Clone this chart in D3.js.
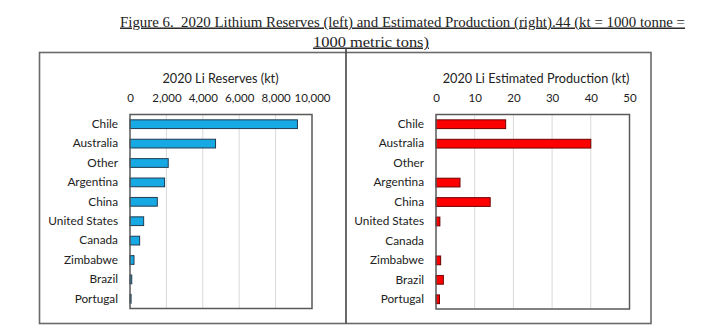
<!DOCTYPE html>
<html><head><meta charset="utf-8">
<script src="https://cdn.jsdelivr.net/npm/d3@7"></script>
<style>body{margin:0;background:#fff;}svg{display:block;} text{white-space:pre;}</style>
</head><body>
<script>
const categories = ["Chile","Australia","Other","Argentina","China","United States","Canada","Zimbabwe","Brazil","Portugal"];
const reserves = [9200,4700,2100,1900,1500,750,530,220,95,60];
const production = [18,40,0,6.2,14,1.0,0,1.2,1.9,0.9];
const reserveTicks = [0,2000,4000,6000,8000,10000];
const productionTicks = [0,10,20,30,40,50];
const titleLine1 = "Figure 6.  2020 Lithium Reserves (left) and Estimated Production (right).44 (kt = 1000 tonne =";
const titleLine2 = "1000 metric tons)";

const W = 720, H = 335;
const svg = d3.select("body").append("svg").attr("width", W).attr("height", H);

// Figure title (serif, underlined)
const tfont = "'Liberation Serif', 'DejaVu Serif', serif";
svg.append("text").attr("x", 120).attr("y", 26.5).attr("font-family", tfont).attr("font-size", 14.5)
  .attr("textLength", 565).attr("lengthAdjust", "spacingAndGlyphs")
  .attr("text-decoration", "underline").attr("fill", "#222").text(titleLine1);
svg.append("text").attr("x", 313).attr("y", 46.5).attr("font-family", tfont).attr("font-size", 14.5)
  .attr("textLength", 116).attr("lengthAdjust", "spacingAndGlyphs")
  .attr("text-decoration", "underline").attr("fill", "#222").text(titleLine2);

// Outer boxes
svg.append("rect").attr("x", 39.5).attr("y", 52.5).attr("width", 611.5).attr("height", 271)
  .attr("fill", "none").attr("stroke", "#6a6a6a").attr("stroke-width", 1.6);
svg.append("line").attr("x1", 346).attr("x2", 346).attr("y1", 48).attr("y2", 323.5)
  .attr("stroke", "#444").attr("stroke-width", 1.6);

const cfont = "Lato, 'Open Sans', sans-serif";

function panel(opts) {
  const g = svg.append("g");
  const x = d3.scaleLinear().domain(opts.domain).range([opts.left, opts.right]);
  const y = d3.scaleBand().domain(categories).range([opts.top, opts.bottom]).paddingInner(0.55).paddingOuter(0.275);

  // gridlines
  g.selectAll("line.grid").data(opts.ticks.slice(1, -1)).join("line")
    .attr("x1", d => x(d)).attr("x2", d => x(d)).attr("y1", opts.top).attr("y2", opts.bottom)
    .attr("stroke", "#d9d9d9").attr("stroke-width", 1);

  // bars
  g.selectAll("rect.bar").data(opts.values.map((v, i) => ({v, c: categories[i]})).filter(d => d.v > 0)).join("rect")
    .attr("x", x(0)).attr("y", d => y(d.c)).attr("width", d => x(d.v) - x(0)).attr("height", y.bandwidth())
    .attr("fill", opts.fill).attr("stroke", opts.stroke).attr("stroke-width", 1);

  // frame
  g.append("rect").attr("x", opts.left).attr("y", opts.top).attr("width", opts.right - opts.left).attr("height", opts.bottom - opts.top)
    .attr("fill", "none").attr("stroke", "#595959").attr("stroke-width", 1.5);

  // top axis labels
  const ax = d3.axisTop(x).tickValues(opts.ticks).tickSize(0).tickPadding(0).tickFormat(opts.fmt);
  const axg = g.append("g").attr("transform", `translate(0,${opts.tickY})`).call(ax);
  axg.select(".domain").remove();
  axg.selectAll("text").attr("font-family", cfont).attr("font-size", 11.5).attr("fill", "#222").attr("dy", 0);

  // category axis
  const ay = d3.axisLeft(y).tickSize(0).tickPadding(opts.labelGap);
  const ayg = g.append("g").attr("transform", `translate(${opts.left},0)`).call(ay);
  ayg.select(".domain").remove();
  ayg.selectAll("text").attr("font-family", cfont).attr("font-size", 11.8).attr("fill", "#222");

  // chart title
  g.append("text").attr("x", opts.titleX).attr("y", 83).attr("text-anchor", "middle")
    .attr("font-family", cfont).attr("font-size", 12.7).attr("fill", "#222").text(opts.title);
}

panel({domain: [0, 10000], ticks: reserveTicks, values: reserves, left: 130, right: 312, top: 114.5, bottom: 308.5,
  fill: "#17a9e3", stroke: "#1d3b52", fmt: d3.format(","), tickY: 102, labelGap: 12, titleX: 220.5, title: "2020 Li Reserves (kt)"});
panel({domain: [0, 50], ticks: productionTicks, values: production, left: 436, right: 629.5, top: 114.5, bottom: 309,
  fill: "#ff0000", stroke: "#6e0000", fmt: d3.format("d"), tickY: 102, labelGap: 12, titleX: 536, title: "2020 Li Estimated Production (kt)"});
</script>
</body></html>
